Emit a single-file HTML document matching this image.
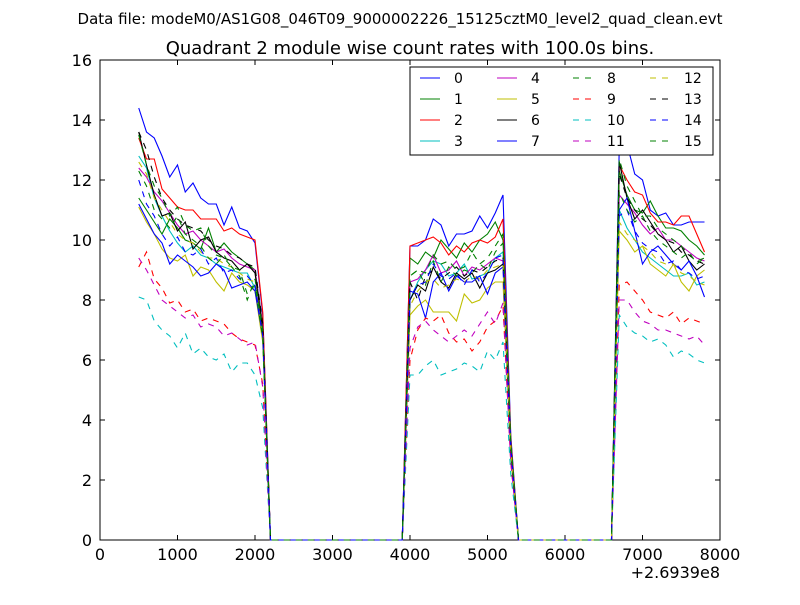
<!DOCTYPE html>
<html><head><meta charset="utf-8"><style>
body{margin:0;background:#fff;}
svg text{font-family:"DejaVu Sans","Liberation Sans",sans-serif;}
</style></head><body>
<svg id="chart" width="800" height="600" viewBox="0 0 800 600" xmlns="http://www.w3.org/2000/svg">
<rect width="800" height="600" fill="#fff"/>
<text x="400" y="24" text-anchor="middle" font-size="15">Data file: modeM0/AS1G08_046T09_9000002226_15125cztM0_level2_quad_clean.evt</text>
<text x="410" y="54" text-anchor="middle" font-size="18">Quadrant 2 module wise count rates with 100.0s bins.</text>
<defs><clipPath id="clip"><rect x="100" y="58" width="620" height="484"/></clipPath></defs>
<g id="axes"></g>
<g id="plot"></g>
<g id="legend"></g>
</svg>
<script>
const xTicks=[0,1000,2000,3000,4000,5000,6000,7000,8000];
const yTicks=[0,2,4,6,8,10,12,14,16];
const seriesNames=["0","1","2","3","4","5","6","7","8","9","10","11","12","13","14","15"];
const colors=["#0000ff","#008000","#ff0000","#00bfbf","#bf00bf","#bfbf00","#000000","#0000ff","#008000","#ff0000","#00bfbf","#bf00bf","#bfbf00","#000000","#0000ff","#008000"];
const seg1Start=500, seg2Start=4000, seg3Start=6700, binSize=100;
const seg1=[
[14.4,13.6,13.4,12.8,12.1,12.5,11.6,11.9,11.4,11.2,11.2,10.5,11.1,10.4,10.3,9.9,7.5],
[11.4,11.0,10.6,10.2,10.7,10.4,10.0,9.9,9.7,10.4,9.6,9.9,9.6,9.4,9.2,9.0,7.2],
[13.4,12.7,12.7,11.7,11.4,11.1,11.0,11.0,10.7,10.7,10.7,10.3,10.4,10.2,10.1,10.0,7.6],
[12.8,12.4,11.4,10.8,10.3,9.9,9.6,9.8,9.5,9.4,9.2,9.1,9.0,8.9,8.9,8.4,6.9],
[12.4,12.1,11.6,11.3,10.9,10.5,10.2,10.3,10.0,9.8,9.6,9.7,9.4,9.2,9.1,9.0,7.1],
[11.1,10.6,10.2,9.7,9.4,9.3,9.5,8.8,9.1,9.0,8.6,8.3,8.9,8.6,8.5,8.3,6.6],
[13.6,12.5,11.5,10.8,10.9,10.3,10.6,9.7,10.0,10.1,9.6,9.4,9.3,9.0,9.2,8.9,7.0],
[11.2,10.7,10.2,9.9,9.2,9.5,9.3,9.1,8.8,8.9,9.2,9.0,8.4,8.5,8.6,8.3,6.8],
[13.5,12.5,11.8,11.4,10.8,11.1,10.5,10.3,10.4,9.8,9.5,9.4,9.1,9.0,8.2,8.5,6.7],
[9.1,9.6,8.7,8.4,7.9,8.0,7.6,7.7,7.3,7.4,7.3,7.2,6.9,6.7,6.6,6.5,5.2],
[8.1,8.0,7.3,7.0,6.8,6.4,6.9,6.2,6.4,6.1,6.0,6.2,5.6,5.9,5.9,5.5,4.4],
[9.4,9.0,8.5,8.0,7.8,7.6,7.4,7.5,7.1,7.2,7.1,6.8,6.9,6.7,6.5,6.6,5.1],
[12.6,12.2,11.4,11.0,10.6,10.2,10.0,9.9,9.6,9.4,9.4,9.2,9.1,8.9,8.7,8.6,6.8],
[13.6,13.0,12.1,11.4,11.0,10.7,10.5,10.4,10.3,10.0,9.8,9.7,9.5,9.4,9.2,9.1,7.2],
[12.0,11.2,10.8,10.2,9.8,10.1,9.6,9.5,9.7,9.2,9.4,8.9,9.0,8.7,8.8,8.5,6.8],
[12.3,11.8,11.0,10.7,10.4,10.8,10.2,10.0,9.8,9.4,9.2,9.5,9.1,8.8,8.0,8.7,7.0]];
const seg2=[
[9.8,9.8,10.0,10.7,10.5,9.8,10.2,10.2,10.3,10.8,10.4,10.9,11.5,3.5],
[9.4,9.2,9.6,9.4,10.0,9.7,9.4,9.9,9.6,10.0,10.2,10.6,10.0,3.3],
[9.8,9.9,10.0,10.1,9.9,9.5,9.8,9.6,9.9,10.0,9.9,10.1,10.7,3.4],
[8.0,8.6,9.0,9.3,9.2,8.8,8.9,9.2,8.7,8.8,8.9,9.4,9.6,3.1],
[8.6,8.7,9.0,9.5,8.9,9.0,9.3,8.8,9.1,9.0,9.2,9.4,9.3,3.1],
[7.5,7.8,8.0,7.6,7.6,7.6,7.3,8.2,7.9,8.0,8.4,8.6,8.6,2.8],
[8.0,8.5,8.3,9.1,8.6,8.4,8.9,8.7,8.9,8.4,8.9,9.0,9.2,3.0],
[8.3,8.2,7.4,8.6,8.9,8.3,8.8,8.6,8.6,8.8,8.2,8.9,9.1,3.0],
[8.8,9.0,8.5,9.3,8.6,9.1,8.8,9.0,8.9,9.2,9.0,9.6,9.9,3.2],
[6.0,7.0,7.4,7.3,7.5,6.9,6.6,6.7,6.3,6.6,7.1,7.3,7.8,2.6],
[5.5,5.5,5.8,6.0,5.5,5.6,5.7,5.9,5.8,5.6,6.3,6.0,6.6,2.2],
[6.4,7.1,7.3,7.0,6.8,6.6,6.8,7.0,6.8,7.2,7.6,7.2,7.9,2.6],
[7.8,8.3,8.6,8.7,8.4,8.5,8.7,8.6,8.8,8.7,9.0,9.1,9.2,3.0],
[8.6,8.0,8.8,9.0,8.7,8.9,9.1,8.8,9.0,8.9,9.1,9.3,9.4,3.1],
[8.1,8.5,8.6,9.2,8.8,8.7,8.9,8.5,9.0,8.6,8.9,9.4,9.5,3.1],
[8.8,9.0,8.9,9.5,9.2,9.3,9.0,9.1,9.6,9.2,9.4,9.8,10.2,3.3]];
const seg3=[
[13.1,13.2,12.2,12.0,11.0,10.8,10.9,10.5,10.5,10.6,10.6,10.6],
[12.3,11.5,11.0,10.9,11.3,10.8,10.4,10.4,10.3,10.0,9.8,9.5],
[12.5,12.0,11.6,11.5,10.9,10.6,10.6,10.5,10.8,10.8,10.2,9.6],
[11.0,10.4,10.0,9.6,9.4,9.2,9.0,8.8,8.8,8.9,8.5,8.6],
[11.5,11.2,10.9,10.5,10.2,10.4,10.0,10.0,9.8,9.6,9.4,9.3],
[10.3,10.0,9.6,9.8,9.2,9.0,8.8,9.2,8.6,8.3,8.8,9.0],
[12.6,11.4,10.7,11.0,10.6,10.2,10.0,9.6,9.8,9.3,9.0,9.2],
[11.0,11.4,10.3,9.2,9.6,9.8,9.5,9.2,9.0,9.3,8.8,8.1],
[12.7,11.8,11.3,10.8,10.8,10.4,10.2,10.0,9.8,9.5,9.3,9.4],
[8.5,8.6,8.3,8.0,7.6,7.5,7.4,7.6,7.2,7.4,7.3,7.2],
[7.5,7.1,6.9,6.8,6.6,6.7,6.5,6.1,6.3,6.2,6.0,5.9],
[8.0,8.0,7.6,7.3,7.2,7.0,7.0,6.9,6.8,6.7,6.8,6.5],
[10.6,10.2,10.0,9.8,9.6,9.3,9.2,9.2,8.9,8.8,8.6,8.5],
[12.2,11.4,11.0,10.7,10.5,10.2,10.0,9.9,9.6,9.5,9.3,9.2],
[10.8,11.0,10.3,9.9,9.7,9.6,9.2,9.3,9.0,8.9,8.7,8.8],
[11.6,11.0,10.6,10.8,10.3,10.0,9.8,9.6,9.4,9.6,9.2,9.4]];

const NS="http://www.w3.org/2000/svg";
const L=100,R=720,T=60,B=540;
const xs=v=>L+(v-0)/8000*(R-L);
const ys=v=>B-v/16*(B-T);
function mk(tag,attrs,parent){const e=document.createElementNS(NS,tag);for(const k in attrs)e.setAttribute(k,attrs[k]);parent.appendChild(e);return e;}
const plot=document.getElementById('plot'),axes=document.getElementById('axes'),leg=document.getElementById('legend');

for(let s=0;s<seriesNames.length;s++){
  const pts=[];
  seg1[s].forEach((v,i)=>pts.push([seg1Start+i*binSize,v]));
  pts.push([seg1Start+seg1[s].length*binSize,0]);
  pts.push([seg2Start-binSize,0]);
  seg2[s].forEach((v,i)=>pts.push([seg2Start+i*binSize,v]));
  pts.push([seg2Start+seg2[s].length*binSize,0]);
  pts.push([seg3Start-binSize,0]);
  seg3[s].forEach((v,i)=>pts.push([seg3Start+i*binSize,v]));
  const p=mk('polyline',{points:pts.map(q=>xs(q[0]).toFixed(2)+','+ys(q[1]).toFixed(2)).join(' '),fill:'none',stroke:colors[s],'stroke-width':1.1,'clip-path':'url(#clip)'},plot);
  if(s>=8)p.setAttribute('stroke-dasharray','6,6');
  
  
}
mk('rect',{x:L,y:T,width:R-L,height:B-T,fill:'none',stroke:'#000','stroke-width':1},axes);
xTicks.forEach(v=>{const x=xs(v);
  mk('line',{x1:x,x2:x,y1:B,y2:B-5,stroke:'#000'},axes);
  mk('line',{x1:x,x2:x,y1:T,y2:T+5,stroke:'#000'},axes);
  const t=mk('text',{x:x,y:B+20,'text-anchor':'middle','font-size':16},axes);t.textContent=v;
  
  
});
yTicks.forEach(v=>{const y=ys(v);
  mk('line',{x1:L,x2:L+5,y1:y,y2:y,stroke:'#000'},axes);
  mk('line',{x1:R,x2:R-5,y1:y,y2:y,stroke:'#000'},axes);
  const t=mk('text',{x:L-8,y:y+6,'text-anchor':'end','font-size':16},axes);t.textContent=v;
  
  
});
const off=mk('text',{x:720,y:578,'text-anchor':'end','font-size':16},axes);off.textContent='+2.6939e8';



mk('rect',{x:410,y:67,width:303,height:88,fill:'#fff',stroke:'#000','stroke-width':1},leg);
const colX=[420,497,573,650];
for(let s=0;s<seriesNames.length;s++){
  const c=Math.floor(s/4),r=s%4,y=78+r*21;
  const g=mk('g',{},leg);
  
  
  const ln=mk('line',{x1:colX[c],x2:colX[c]+20,y1:y,y2:y,stroke:colors[s],'stroke-width':1.1},g);
  if(s>=8)ln.setAttribute('stroke-dasharray','6,6');
  const t=mk('text',{x:colX[c]+34,y:y+5,'font-size':14},g);t.textContent=seriesNames[s];
}
</script>
</body></html>
